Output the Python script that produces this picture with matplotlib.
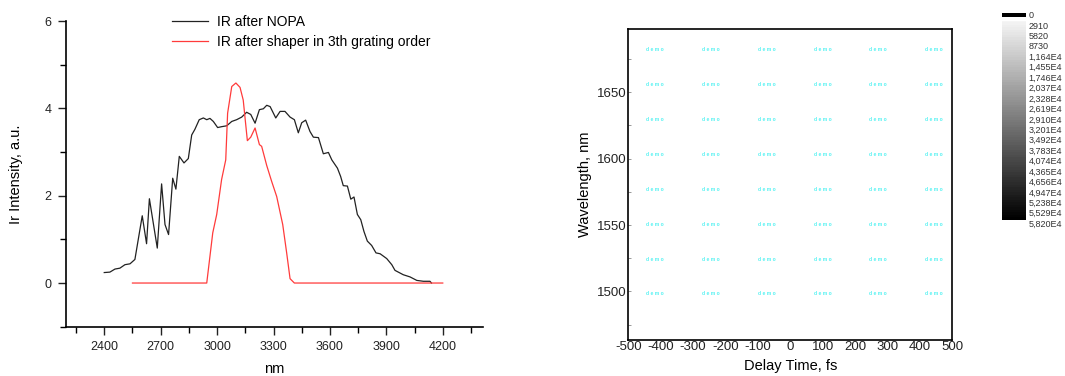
import numpy as np
import matplotlib
matplotlib.use("Agg")
import matplotlib.pyplot as plt
from matplotlib.ticker import MultipleLocator

plt.rcParams['font.family'] = ['Liberation Sans', 'DejaVu Sans']
plt.rcParams['axes.unicode_minus'] = False

# IR spectrum after NOPA (black)
nopa_nm = [2400, 2430, 2457, 2483, 2510, 2537, 2563, 2602, 2625, 2640, 2682, 2705, 2723, 2742, 2764,
           2781, 2799, 2824, 2847, 2865, 2882, 2905, 2927, 2945, 2962, 2980, 3003, 3024, 3051, 3078,
           3104, 3131, 3157, 3179, 3202, 3225, 3246, 3264, 3282, 3312, 3335, 3361, 3388, 3411, 3432,
           3450, 3471, 3494, 3512, 3539, 3565, 3592, 3610, 3640, 3657, 3671, 3693, 3711, 3728, 3746,
           3764, 3781, 3799, 3822, 3845, 3867, 3902, 3929, 3946, 3990, 4026, 4062, 4097, 4132, 4140]
nopa_int = [0.24, 0.25, 0.32, 0.34, 0.42, 0.44, 0.54, 1.54, 0.90, 1.93, 0.80, 2.27, 1.34, 1.11, 2.40,
            2.15, 2.90, 2.75, 2.85, 3.39, 3.52, 3.74, 3.78, 3.74, 3.77, 3.70, 3.56, 3.58, 3.60, 3.70,
            3.74, 3.80, 3.91, 3.86, 3.66, 3.97, 3.99, 4.07, 4.04, 3.78, 3.93, 3.93, 3.80, 3.74, 3.44,
            3.67, 3.73, 3.47, 3.34, 3.33, 2.96, 2.99, 2.82, 2.63, 2.44, 2.23, 2.22, 1.92, 1.97, 1.57,
            1.45, 1.18, 0.96, 0.86, 0.69, 0.67, 0.56, 0.42, 0.29, 0.19, 0.14, 0.06, 0.04, 0.04, 0.0]

# IR after shaper, 3rd grating order (red)
shaper_nm = [2550, 2945, 2977, 2998, 3024, 3046, 3056, 3078, 3100, 3122, 3139, 3161, 3179, 3202,
             3225, 3237, 3264, 3290, 3317, 3349, 3370, 3388, 3411, 4200]
shaper_int = [0, 0, 1.15, 1.57, 2.37, 2.82, 3.89, 4.50, 4.58, 4.48, 4.19, 3.26, 3.34, 3.55,
              3.17, 3.13, 2.69, 2.33, 1.98, 1.34, 0.69, 0.10, 0, 0]

legend_labels = ["IR after NOPA", "IR after shaper in 3th grating order"]

# colour scale of the (empty) map
cbar_labels = ["0", "2910", "5820", "8730", "1,164E4", "1,455E4", "1,746E4", "2,037E4", "2,328E4",
               "2,619E4", "2,910E4", "3,201E4", "3,492E4", "3,783E4", "4,074E4", "4,365E4",
               "4,656E4", "4,947E4", "5,238E4", "5,529E4", "5,820E4"]

W, H = 1065, 376
fig = plt.figure(figsize=(W / 100, H / 100), dpi=100)


def px_axes(x0, y0, x1, y1):
    # pixel box (top-left origin) -> figure axes
    return fig.add_axes([x0 / W, 1 - y1 / H, (x1 - x0) / W, (y1 - y0) / H])


# ---------------- left panel ----------------
ax1 = px_axes(65.7, 21, 483, 326.7)
ax1.plot(nopa_nm, nopa_int, color='#222222', lw=0.9, label=legend_labels[0])
ax1.plot(shaper_nm, shaper_int, color='#ff3b3b', lw=0.9, label=legend_labels[1])
ax1.set_xlim(2195, 4414)
ax1.set_ylim(-1, 6)
ax1.spines['top'].set_visible(False)
ax1.spines['right'].set_visible(False)
for s in ('left', 'bottom'):
    ax1.spines[s].set_linewidth(1.2)
ax1.xaxis.set_minor_locator(MultipleLocator(150))
ax1.yaxis.set_major_locator(MultipleLocator(2))
ax1.yaxis.set_minor_locator(MultipleLocator(1))
ax1.set_xticks([2400, 2700, 3000, 3300, 3600, 3900, 4200])
ax1.tick_params(which='major', direction='out', length=6, width=1, labelsize=9,
                colors='#222222', pad=4)
ax1.tick_params(which='minor', direction='out', length=4, width=1)
ax1.set_xlabel("nm", fontsize=10.5, labelpad=7)
ax1.set_ylabel("Ir Intensity, a.u.", fontsize=10.5, labelpad=16)
ax1.legend(loc='upper left', bbox_to_anchor=(172 / W, 1 - 15 / H),
           bbox_transform=fig.transFigure, frameon=False, fontsize=10,
           handlelength=2.6, handletextpad=0.65, labelspacing=0.42,
           borderpad=0, borderaxespad=0)

# ---------------- right panel ----------------
ax2 = px_axes(628.3, 29, 952.3, 340)
ax2.set_xlim(-500, 500)
ax2.set_ylim(1463.5, 1697.5)
for s in ax2.spines.values():
    s.set_linewidth(1.2)
ax2.xaxis.set_major_locator(MultipleLocator(100))
ax2.yaxis.set_major_locator(MultipleLocator(50))
ax2.yaxis.set_minor_locator(MultipleLocator(25))
ax2.tick_params(which='both', direction='in', length=2, width=0.6, color='#888888',
                labelsize=9.5, pad=1, labelcolor='#222222')
ax2.tick_params(axis='x', length=0)
ax2.set_xlabel("Delay Time, fs", fontsize=10.5, labelpad=4)
ax2.set_ylabel("Wavelength, nm", fontsize=10.5, labelpad=4)

# "demo" watermark grid of the trial software
for cx in 0.082 + 0.1724 * np.arange(6):
    for cy in 0.148 + 0.1123 * np.arange(8):
        ax2.text(cx, cy, "d e m o", transform=ax2.transAxes, fontsize=3.6,
                 color='#55f2f2', ha='center', va='center', fontweight='bold')

# ---------------- colour scale ----------------
n_bands = len(cbar_labels) - 1
cax = px_axes(1002, 20.7, 1025.5, 220.5)
bands = np.linspace(0.96, 0.0, n_bands * 4).reshape(-1, 1)
cax.imshow(bands, cmap='gray', vmin=0, vmax=1, aspect='auto', interpolation='nearest')
cax.axis('off')
sw = px_axes(1002, 13.3, 1025.5, 17)
sw.set_facecolor('black')
sw.set_xticks([])
sw.set_yticks([])
for s in sw.spines.values():
    s.set_visible(False)
for i, lab in enumerate(cbar_labels):
    fig.text(1028.5 / W, 1 - (15.7 + 10.42 * i) / H, lab, fontsize=6.5,
             ha='left', va='center', color='#333333')

fig.savefig("out.png", dpi=100)
